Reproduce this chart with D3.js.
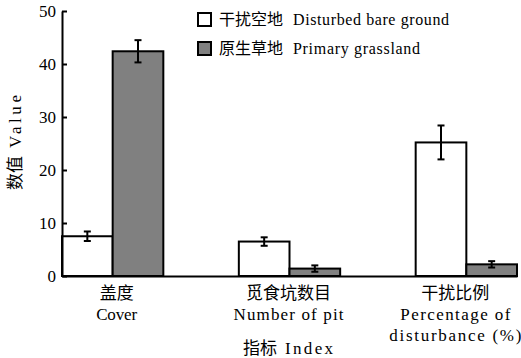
<!DOCTYPE html>
<html><head><meta charset="utf-8">
<script src="https://cdn.jsdelivr.net/npm/d3@7"></script>
<style>body{margin:0;background:#fff}svg{display:block}</style>
</head><body>
<script>
const categoriesCN = ["盖度", "觅食坑数目", "干扰比例"];
const categoriesEN = [["Cover"], ["Number of pit"], ["Percentage of", "disturbance (%)"]];
const seriesCN = ["干扰空地", "原生草地"];
const seriesEN = ["Disturbed bare ground", "Primary grassland"];
const disturbedValues = [7.5, 6.5, 25.2];
const disturbedErrors = [0.9, 0.8, 3.2];
const grasslandValues = [42.4, 1.4, 2.2];
const grasslandErrors = [2.1, 0.6, 0.6];
const yTicks = [0, 10, 20, 30, 40, 50];
const colors = ["#ffffff", "#808080"];

const W = 521, H = 358;
const font = "'Liberation Serif','Noto Sans CJK SC',serif";
const svg = d3.select("body").append("svg").attr("width", W).attr("height", H)
  .style("font-family", font);

const x0 = d3.scaleBand().domain(d3.range(3)).range([62, 517]).paddingInner(0.427).paddingOuter(0);
const x1 = d3.scaleBand().domain([0, 1]).range([0, x0.bandwidth()]);
const y = d3.scaleLinear().domain([0, 50]).range([276, 11]);

const series = [
  {vals: disturbedValues, errs: disturbedErrors},
  {vals: grasslandValues, errs: grasslandErrors}
];

series.forEach((s, si) => {
  const g = svg.append("g");
  g.selectAll("rect").data(s.vals).join("rect")
    .attr("x", (d, i) => x0(i) + x1(si))
    .attr("y", d => y(d))
    .attr("width", x1.bandwidth())
    .attr("height", d => y(0) - y(d))
    .attr("fill", colors[si])
    .attr("stroke", "#000").attr("stroke-width", 2);
  s.vals.forEach((v, i) => {
    const cx = x0(i) + x1(si) + x1.bandwidth() / 2;
    const e = s.errs[i];
    const eg = svg.append("g").attr("stroke", "#000").attr("stroke-width", 2);
    eg.append("line").attr("x1", cx).attr("x2", cx).attr("y1", y(v + e)).attr("y2", y(v - e));
    eg.append("line").attr("x1", cx - 3.5).attr("x2", cx + 3.5).attr("y1", y(v + e)).attr("y2", y(v + e));
    eg.append("line").attr("x1", cx - 3.5).attr("x2", cx + 3.5).attr("y1", y(v - e)).attr("y2", y(v - e));
  });
});

const yAxis = d3.axisLeft(y).tickValues(yTicks).tickSizeInner(-5).tickSizeOuter(0).tickPadding(6);
const ya = svg.append("g").attr("transform", "translate(62,0)").call(yAxis);
ya.select(".domain").attr("stroke-width", 2);
ya.selectAll(".tick line").attr("stroke-width", 2);
ya.selectAll(".tick text").attr("font-size", 17).attr("font-family", font).attr("fill", "#000");

const xa = svg.append("g").attr("transform", "translate(0,276)")
  .call(d3.axisBottom(d3.scaleLinear().range([62, 517])).ticks(0).tickSizeOuter(0));
xa.select(".domain").attr("stroke-width", 2);

const labOffsets = [4, -1, -11];
const enWidths = [[41], [110], [110, 132]];
categoriesCN.forEach((c, i) => {
  const cx = x0(i) + x0.bandwidth() / 2 + labOffsets[i];
  svg.append("text").attr("x", cx).attr("y", 299).attr("text-anchor", "middle")
    .attr("font-size", 17).text(c);
  categoriesEN[i].forEach((t, j) => {
    svg.append("text").attr("x", cx).attr("y", 320 + j * 21).attr("text-anchor", "middle")
      .attr("font-size", 17).attr("textLength", enWidths[i][j]).attr("lengthAdjust", "spacing").text(t);
  });
});

const xt = svg.append("text").attr("x", 243).attr("y", 354).attr("font-size", 17);
xt.append("tspan").text("指标");
xt.append("tspan").attr("x", 285).attr("textLength", 48).attr("lengthAdjust", "spacing").text("Index");

const yt = svg.append("text").attr("transform", "translate(21,190) rotate(-90)").attr("font-size", 17);
yt.append("tspan").text("数值");
yt.append("tspan").attr("x", 42).attr("textLength", 53).attr("lengthAdjust", "spacing").text("Value");

series.forEach((s, si) => {
  const ly = 13 + si * 29;
  svg.append("rect").attr("x", 198).attr("y", ly).attr("width", 13).attr("height", 13)
    .attr("fill", colors[si]).attr("stroke", "#000").attr("stroke-width", 2);
  svg.append("text").attr("x", 219).attr("y", ly + 12).attr("font-size", 16).text(seriesCN[si]);
  svg.append("text").attr("x", 293).attr("y", ly + 12).attr("font-size", 16)
    .attr("textLength", si === 0 ? 156 : 127).attr("lengthAdjust", "spacing").text(seriesEN[si]);
});
</script>
</body></html>
